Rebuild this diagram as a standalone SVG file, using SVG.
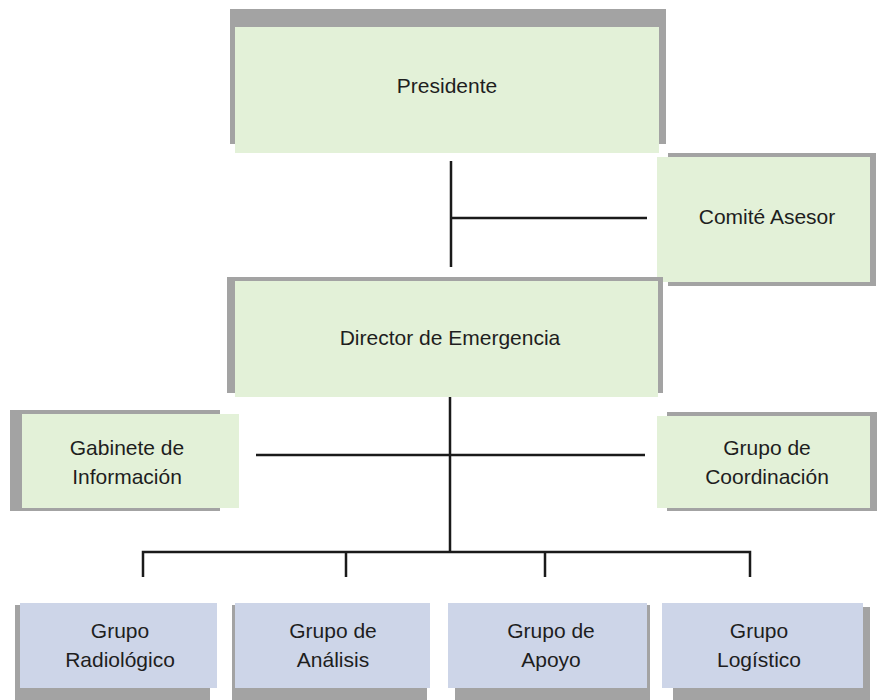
<svg xmlns="http://www.w3.org/2000/svg" width="883" height="700" viewBox="0 0 883 700">
<style>
.sh{fill:#a3a3a3}
.g{fill:#e3f1d8}
.b{fill:#cdd5e8}
text{font-family:"Liberation Sans",Arial,sans-serif;font-size:21px;fill:#1e1e1e;text-anchor:middle}
.ln{stroke:#1a1a1a;stroke-width:2.5;fill:none}
</style>
<rect width="883" height="700" fill="#ffffff"/>
<g id="presidente">
<rect class="sh" x="230" y="9" width="436" height="135"/>
<rect class="g" x="235" y="27" width="424" height="126"/>
<text x="447" y="93">Presidente</text>
</g>
<g id="comite">
<rect class="sh" x="668" y="153" width="208" height="133"/>
<rect class="g" x="657" y="157" width="213" height="125"/>
<text x="767" y="224">Comité Asesor</text>
</g>
<g id="director">
<rect class="sh" x="227" y="277" width="436" height="116"/>
<rect class="g" x="235" y="281" width="423" height="116"/>
<text x="450" y="345">Director de Emergencia</text>
</g>
<g id="gabinete">
<rect class="sh" x="10" y="410" width="210" height="101"/>
<rect class="g" x="22" y="414" width="217" height="94"/>
<text x="127" y="455">Gabinete de</text>
<text x="127" y="484">Información</text>
</g>
<g id="coordinacion">
<rect class="sh" x="667" y="412" width="210" height="99"/>
<rect class="g" x="657" y="416" width="213" height="92"/>
<text x="767" y="455">Grupo de</text>
<text x="767" y="484">Coordinación</text>
</g>
<g id="radiologico">
<rect class="sh" x="15" y="605" width="195" height="95"/>
<rect class="b" x="20" y="603" width="197" height="85"/>
<text x="120" y="638">Grupo</text>
<text x="120" y="667">Radiológico</text>
</g>
<g id="analisis">
<rect class="sh" x="232" y="605" width="195" height="95"/>
<rect class="b" x="235" y="603" width="195" height="85"/>
<text x="333" y="638">Grupo de</text>
<text x="333" y="667">Análisis</text>
</g>
<g id="apoyo">
<rect class="sh" x="455" y="605" width="195" height="95"/>
<rect class="b" x="448" y="603" width="199" height="85"/>
<text x="551" y="638">Grupo de</text>
<text x="551" y="667">Apoyo</text>
</g>
<g id="logistico">
<rect class="sh" x="673" y="607" width="197" height="93"/>
<rect class="b" x="662" y="603" width="201" height="85"/>
<text x="759" y="638">Grupo</text>
<text x="759" y="667">Logístico</text>
</g>
<g id="connectors">
<path class="ln" d="M451 161V267M451 218H647"/>
<path class="ln" d="M450 397V551M256 455H645"/>
<path class="ln" d="M143 577V552H750V577M346 552V577M545 552V577"/>
</g>
</svg>
